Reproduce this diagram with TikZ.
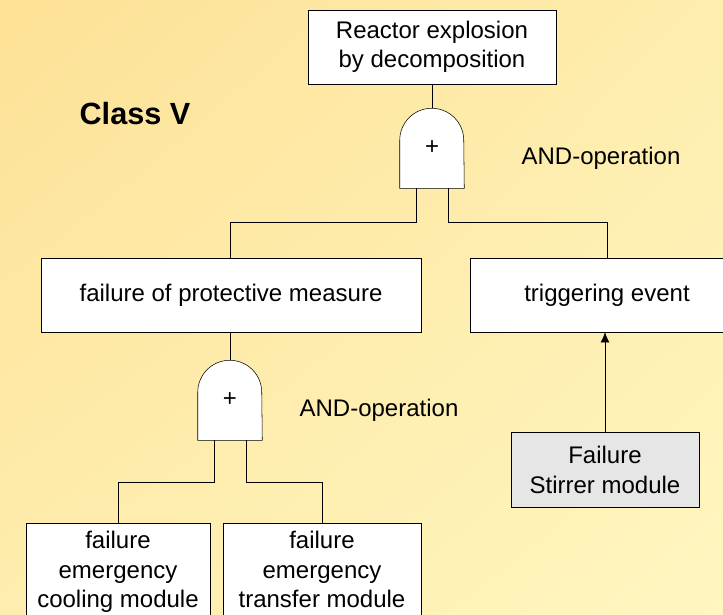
\documentclass[tikz,border=0pt]{standalone}
\usepackage{fontspec}
\setmainfont{Liberation Sans}
\usetikzlibrary{arrows.meta,backgrounds,shadings}
\definecolor{bgtop}{RGB}{253,225,150}
\definecolor{bgmid}{RGB}{254,237,174}
\definecolor{bgbot}{RGB}{255,246,192}
\definecolor{basicfill}{RGB}{230,230,230}

\begin{document}
\begin{tikzpicture}[x=0.75pt, y=-0.75pt,
        event/.style={draw, fill=white, inner sep=0pt, align=center, minimum height=55.5pt, font=\fontsize{18}{22}\selectfont},
        gatebox/.style={inner sep=0pt, minimum width=48pt, minimum height=60pt, font=\fontsize{18}{22}\selectfont},
        gate/.style={draw, fill=white},
        opnote/.style={font=\fontsize{18}{22}\selectfont}]
        \useasboundingbox (0,0) rectangle (723,614);
        \begin{scope}[on background layer]
            \shade[upper left=bgtop, upper right=bgmid, lower left=bgmid, lower right=bgbot] (0,0) rectangle (723,614);
        \end{scope}

        % Title
        \node[font=\fontsize{23}{27}\selectfont\bfseries] (title) at (135,114) {Class V};

        % Events
        \node[event, minimum width=186pt] (top) at (432,47) {Reactor explosion\\by decomposition};
        \node[event, minimum width=285pt] (protect) at (231,295) {failure of protective measure};
        \node[event, minimum width=205.5pt] (trig) at (607,295) {triggering event};
        \node[event, minimum width=141pt, minimum height=56pt, fill=basicfill] (stir) at (605,470) {Failure\\Stirrer module};
        \node[event, anchor=north, minimum width=138pt, minimum height=0pt, inner ysep=6pt] (cool) at (118,523) {failure\\emergency\\cooling module};
        \node[event, anchor=north, minimum width=148.5pt, minimum height=0pt, inner ysep=6pt] (transfer) at (322,523) {failure\\emergency\\transfer module};

        % Gates
        \node[gatebox] (g1) at (432,148) {+};
        \node[gatebox] (g2) at (230,400) {+};
        \begin{scope}[on background layer]
            \draw[gate] (g1.south west) -- ++(0,-48) arc[start angle=180, end angle=360, radius=32] -- (g1.south east) -- cycle;
            \draw[gate] (g2.south west) -- ++(0,-48) arc[start angle=180, end angle=360, radius=32] -- (g2.south east) -- cycle;
        \end{scope}
        \node[opnote] (op1) at (601,158) {AND-operation};
        \node[opnote] (op2) at (379,410) {AND-operation};

        % Connections
        \draw (top.south) -- (g1.north);
        \draw ([xshift=-12pt]g1.south) -- ++(0,34) -| (protect.north -| g2.north);
        \draw ([xshift=12pt]g1.south) -- ++(0,34) -| (trig.north);
        \draw (protect.south -| g2.north) -- (g2.north);
        \draw ([xshift=-12pt]g2.south) -- ++(0,42) -| (cool.north);
        \draw ([xshift=12pt]g2.south) -- ++(0,42) -| (transfer.north);
        \draw[-{Latex[length=7.5pt, width=6.5pt]}] (stir.north) -- (stir.north |- trig.south);
    \end{tikzpicture}
\end{document}
